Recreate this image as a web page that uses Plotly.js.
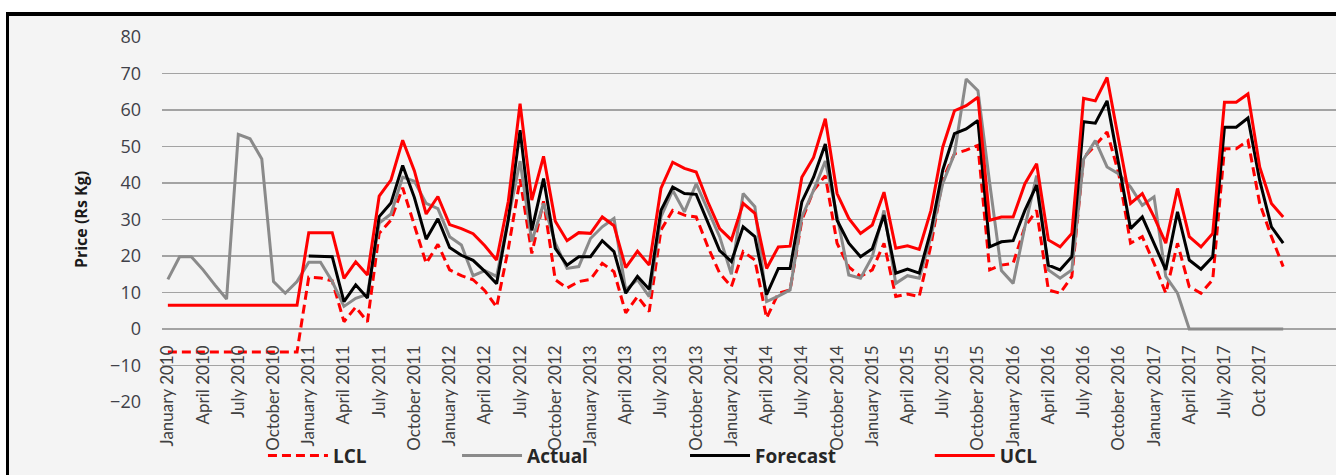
<!DOCTYPE html>
<html>
<head>
<meta charset="utf-8">
<script src="https://cdn.plot.ly/plotly-3.0.1.min.js"></script>
<style>
  html, body { margin: 0; padding: 0; background: #ffffff; width: 1336px; height: 475px; overflow: hidden; }
  #frame { position: absolute; left: 6px; top: 12px; width: 1330px; height: 463px; background: #f4f4f4;
           border-top: 4px solid #000; border-left: 3px solid #000; box-sizing: border-box; }
  #chart { position: absolute; left: 0; top: 0; width: 1336px; height: 475px; }
</style>
</head>
<body>
<div id="frame"></div>
<div id="chart"></div>
<script>
// ---- data ----
const years = [2010, 2011, 2012, 2013, 2014, 2015, 2016, 2017];
const monthNames = ["Jan", "Feb", "Mar", "Apr", "May", "Jun", "Jul", "Aug", "Sep", "Oct", "Nov", "Dec"];

const tickMonths = ["Jan 2010","Apr 2010","Jul 2010","Oct 2010",
  "Jan 2011","Apr 2011","Jul 2011","Oct 2011",
  "Jan 2012","Apr 2012","Jul 2012","Oct 2012",
  "Jan 2013","Apr 2013","Jul 2013","Oct 2013",
  "Jan 2014","Apr 2014","Jul 2014","Oct 2014",
  "Jan 2015","Apr 2015","Jul 2015","Oct 2015",
  "Jan 2016","Apr 2016","Jul 2016","Oct 2016",
  "Jan 2017","Apr 2017","Jul 2017","Oct 2017"];
const tickLabels = ["January 2010","April 2010","July 2010","October 2010",
  "January 2011","April 2011","July 2011","October 2011",
  "January 2012","April 2012","July 2012","October 2012",
  "January 2013","April 2013","July 2013","October 2013",
  "January 2014","April 2014","July 2014","October 2014",
  "January 2015","April 2015","July 2015","October 2015",
  "January 2016","April 2016","July 2016","October 2016",
  "January 2017","April 2017","July 2017","Oct 2017"];

const actual = [
  13.6,19.8,19.8,16.2,12.1,8.2,53.3,52.1,46.6,13,9.8,13,
  18.3,18.3,13,6.2,8.4,9.5,29,31.5,41.6,40.5,34.4,33,
  25.3,23,14.6,16,14.4,30,46,24,34.4,23.5,16.6,17.1,
  24.8,28,30.3,10.7,13.5,8.9,30.7,38,32.1,39.8,32.5,25.3,
  15,37.1,33.5,7.5,9,10.7,30.7,38,46,31,14.8,13.9,
  19.8,32.5,12.5,14.6,13.9,25.3,39.8,48,68.5,65.3,40,16,
  12.5,28,42,16.2,13.9,16.2,46.5,51.6,44.4,42.5,38.9,33.9,
  36.2,14.4,9.8,0,0,0,0,0,0,0,0,0];

const forecast = [
  null,null,null,null,null,null,null,null,null,null,null,null,
  20,20,19.8,7.5,12.1,8.5,30.8,34.5,44.8,36,24.6,30.2,
  22.3,20.2,18.8,15.8,12.4,30,54.5,27,41.2,22.1,17.5,19.8,
  19.8,24.2,21.2,9.8,14.4,10.9,32.5,38.9,37.1,36.9,29,21.5,
  18.5,28,25.3,9.4,16.6,16.6,34.8,41.6,50.7,29.8,23.5,19.8,
  22,31.2,15.3,16.4,15.3,27,43.5,53.5,54.8,57.1,22.5,23.9,
  24.2,32.5,39.4,17.5,16.2,19.8,56.8,56.4,62.5,45.3,27.5,30.7,
  23.5,16.2,32.1,18.9,16.4,19.8,55.3,55.3,57.8,40.7,28,23.5];

const ucl = [
  6.5,6.5,6.5,6.5,6.5,6.5,6.5,6.5,6.5,6.5,6.5,6.5,
  26.4,26.4,26.4,13.9,18.4,14.8,36.4,40.8,51.7,43.3,31.5,36.3,
  28.6,27.5,26.1,22.8,18.9,35,61.7,35.3,47.3,29.5,24.2,26.4,
  26.2,30.7,28.3,16.8,21.3,17.5,38.5,45.7,44,43,34.8,27.5,
  24.4,34.4,31.7,16.6,22.5,22.7,41.6,47,57.6,37.1,30.3,26.2,
  28.5,37.5,22.1,22.8,21.8,32.5,49.8,59.8,61.2,63.5,29.8,30.7,
  30.7,39.8,45.3,24.4,22.5,26.2,63.2,62.5,68.9,51.6,34.4,37.1,
  30.7,23.5,38.5,25.3,22.5,26.2,62.1,62.1,64.4,44.4,34.4,30.7];

const lcl = [
  -6.3,-6.3,-6.3,-6.3,-6.3,-6.3,-6.3,-6.3,-6.3,-6.3,-6.3,-6.3,
  14.2,14,13.2,2,6,2,26.2,29.8,38.7,28,18,23.2,
  16.2,14.6,13.5,10.5,6,22,41,20.7,35,13.5,11.2,13,
  13.6,18,15.7,4.4,8.9,4.8,27.1,32.5,31.2,30.7,22.5,15.3,
  11.6,21.2,18.9,3,9.8,10.7,29.8,38,42,23.5,17,14.4,
  16.2,23.5,8.9,9.6,8.9,23,41,48,49,50.3,16.2,17.5,
  18,28,32.5,10.7,9.8,14.4,47,50.3,54,42.5,23.5,25.3,
  18,9.8,23.5,11.6,9.8,13.5,49.4,49.4,51.6,34.4,25.3,17.1];

// category labels for each month
const months = [];
years.forEach(y => monthNames.forEach(m => months.push(m + " " + y)));

const FONT = "Lato, 'Open Sans', sans-serif";
const BOLD = "'Open Sans', Lato, sans-serif";
const legendFont = {family: BOLD, size: 19, weight: 'bold', color: '#262626'};
function legendBox(x) {
  return {x: x, y: -0.147, xanchor: 'left', yanchor: 'middle', orientation: 'h',
          bgcolor: 'rgba(0,0,0,0)', borderwidth: 0, font: legendFont, itemwidth: 60};
}

const traces = [
  {name: 'LCL', x: months, y: lcl, type: 'scatter', mode: 'lines', legend: 'legend',
   line: {color: '#ff0000', width: 3, dash: '9px,5px'}},
  {name: 'Actual', x: months, y: actual, type: 'scatter', mode: 'lines', legend: 'legend2',
   line: {color: '#8a8a8a', width: 3}},
  {name: 'Forecast', x: months, y: forecast, type: 'scatter', mode: 'lines', legend: 'legend3',
   line: {color: '#000000', width: 3}},
  {name: 'UCL', x: months, y: ucl, type: 'scatter', mode: 'lines', legend: 'legend4',
   line: {color: '#ff0000', width: 3}}
];

const layout = {
  width: 1336, height: 475,
  margin: {l: 162, r: 0, t: 37, b: 73, autoexpand: false},
  paper_bgcolor: 'rgba(0,0,0,0)', plot_bgcolor: 'rgba(0,0,0,0)',
  showlegend: true,
  xaxis: {
    type: 'category', range: [-0.5, 99.5], categoryorder: 'array', categoryarray: months,
    tickmode: 'array', tickvals: tickMonths, ticktext: tickLabels, tickangle: -90,
    anchor: 'free', position: 0.2, showgrid: false, showline: false, zeroline: false, ticks: '',
    ticklabelstandoff: 12,
    tickfont: {family: FONT, size: 17, color: '#404040'}
  },
  yaxis: {
    range: [-20, 80], tick0: 0, dtick: 10, showgrid: true, gridcolor: '#a3a3a3', gridwidth: 1.6,
    zeroline: false, showline: false, ticks: '', ticklabelstandoff: 20,
    tickfont: {family: BOLD, size: 18, color: '#404048'},
    title: {text: 'Price (Rs Kg)', standoff: 18, font: {family: BOLD, size: 16, weight: 'bold', color: '#1a1a1a'}}
  },
  legend: legendBox(0.086),
  legend2: legendBox(0.2513),
  legend3: legendBox(0.4455),
  legend4: legendBox(0.654)
};

Plotly.newPlot('chart', traces, layout, {displayModeBar: false, staticPlot: true});
</script>
</body>
</html>
